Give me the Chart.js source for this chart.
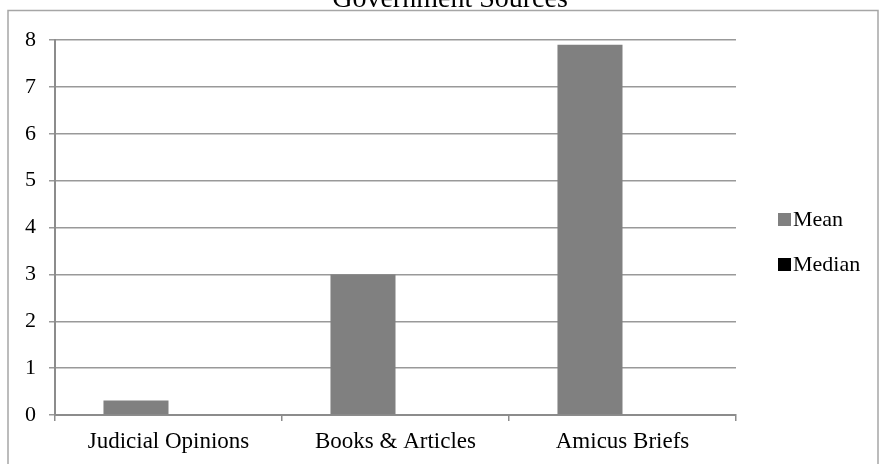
<!DOCTYPE html>
<html>
<head>
<meta charset="utf-8">
<script src="https://cdn.jsdelivr.net/npm/chart.js@4.4.0/dist/chart.umd.min.js"></script>
<style>
    html, body { margin: 0; padding: 0; background: #ffffff; }
    #wrap { width: 882px; height: 464px; position: relative; }
</style>
</head>
<body>
<div id="wrap"><canvas id="sourcesChart" width="882" height="464"></canvas></div>
<script>
// --- Chart data ---
const categories = ["Judicial Opinions", "Books & Articles", "Amicus Briefs"];
const meanValues = [0.31, 3.0, 7.9];
const medianValues = [0, 0, 0];
const yTicks = [0, 1, 2, 3, 4, 5, 6, 7, 8];

const chartTitle = "Government Sources";
const serif = "'Liberation Serif', 'Times New Roman', serif";

// frame + title + legend drawn by hand, like the spreadsheet export
const framePlugin = {
    id: "frame",
    beforeDraw(chart) {
        const ctx = chart.ctx;
        ctx.save();
        ctx.fillStyle = "#ffffff";
        ctx.fillRect(0, 0, chart.width, chart.height);
        ctx.strokeStyle = "#a6a6a6";
        ctx.lineWidth = 1.5;
        ctx.strokeRect(8, 10.5, 870, 470);
        ctx.restore();
    },
    afterDraw(chart) {
        const ctx = chart.ctx;
        ctx.save();
        // title (top part falls outside the picture)
        ctx.fillStyle = "#000000";
        ctx.font = "28px " + serif;
        ctx.textAlign = "center";
        ctx.textBaseline = "alphabetic";
        ctx.fillText(chartTitle, 450, 7);

        // legend
        ctx.font = "22px " + serif;
        ctx.textAlign = "left";
        ctx.textBaseline = "middle";
        chart.data.datasets.forEach((ds, i) => {
            const y = 219 + i * 45;
            ctx.fillStyle = ds.backgroundColor;
            ctx.fillRect(778, y - 6, 13, 13);
            ctx.fillStyle = "#000000";
            ctx.fillText(ds.label, 793, y + 1);
        });
        ctx.restore();
    }
};

const ctx = document.getElementById("sourcesChart").getContext("2d");
new Chart(ctx, {
    type: "bar",
    data: {
        labels: categories,
        datasets: [
            { label: "Mean", data: meanValues, backgroundColor: "#808080" },
            { label: "Median", data: medianValues, backgroundColor: "#000000" }
        ]
    },
    options: {
        responsive: false,
        animation: false,
        devicePixelRatio: 1,
        layout: { padding: { left: 0, top: 40, right: 146, bottom: 0 } },
        datasets: { bar: { categoryPercentage: 0.573, barPercentage: 1.0 } },
        plugins: {
            legend: { display: false },
            title: { display: false },
            tooltip: { enabled: false }
        },
        scales: {
            x: {
                offset: true,
                grid: {
                    display: true,
                    offset: true,
                    drawOnChartArea: false,
                    drawTicks: true,
                    tickLength: 6,
                    color: "#8c8c8c",
                    lineWidth: 1.5
                },
                border: { display: true, color: "#8c8c8c", width: 2 },
                ticks: {
                    color: "#000000",
                    font: { family: serif, size: 23 },
                    padding: 7,
                    maxRotation: 0
                },
                afterFit: (scale) => { scale.height = 49; }
            },
            y: {
                min: 0,
                max: 8,
                afterBuildTicks: (scale) => { scale.ticks = yTicks.map(v => ({ value: v })); },
                grid: {
                    color: "#999999",
                    lineWidth: 1.5,
                    drawTicks: true,
                    tickLength: 6
                },
                border: { display: true, color: "#8c8c8c", width: 2 },
                ticks: {
                    color: "#000000",
                    font: { family: serif, size: 22 },
                    padding: 13
                },
                afterFit: (scale) => { scale.width = 55; }
            }
        }
    },
    plugins: [framePlugin]
});
</script>
</body>
</html>
